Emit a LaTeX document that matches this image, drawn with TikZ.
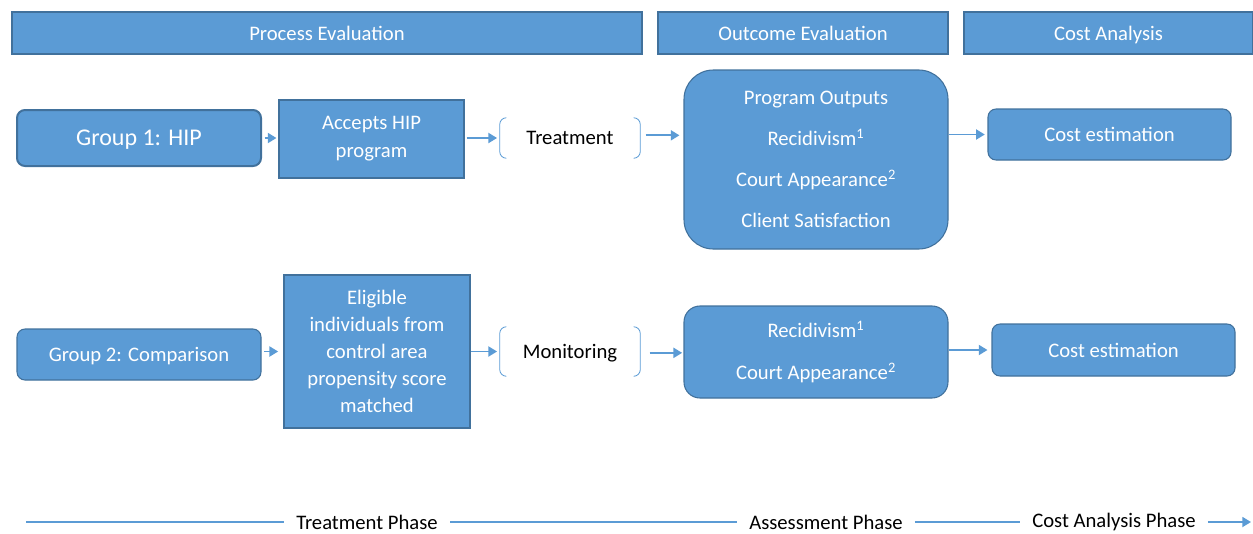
\documentclass[tikz,border=0pt]{standalone}
\usepackage{fontspec}
\setmainfont{Carlito}
\usepackage{xcolor}
\usetikzlibrary{arrows.meta}
\definecolor{boxblue}{HTML}{5B9BD5}
\definecolor{boxline}{HTML}{41719C}
\tikzset{
    block/.style={
        draw=boxline,
        fill=boxblue,
        text=white,
        line width=0.8pt,
        align=center,
        inner sep=0pt,
        font=\fontsize{15.5}{21}\selectfont
    },
    roundblock/.style={block, rounded corners=6pt},
    oneline/.style={text depth=0pt},
    bracketbox/.style={inner sep=0pt, text=black, text depth=0pt, font=\fontsize{15.5}{21}\selectfont},
    bracket/.style={draw=boxblue, line width=0.6pt, rounded corners=5pt},
    flow/.style={draw=boxblue, line width=1.4pt, -{Triangle[length=6.5pt, width=7.5pt]}},
    phaseline/.style={draw=boxblue, line width=1.3pt},
    phasetext/.style={text=black, inner xsep=9pt, font=\fontsize{15.5}{21}\selectfont}
}

\begin{document}
\begin{tikzpicture}[x=0.75pt, y=-0.75pt]
  \useasboundingbox (0,0) rectangle (1253,533);

  % Headers
  \node[block, oneline, minimum width=472.5pt, minimum height=31.5pt] (proc) at (327,33) {Process Evaluation};
  \node[block, oneline, minimum width=217.5pt, minimum height=31.5pt] (outc) at (803,33) {Outcome Evaluation};
  \node[block, oneline, minimum width=216.75pt, minimum height=31.5pt] (cost) at (1108.5,33) {Cost Analysis};

  % Group 1
  \node[roundblock, oneline, line width=1.5pt, minimum width=183pt, minimum height=42pt, font=\fontsize{18}{22}\selectfont] (g1) at (139,138) {Group 1: HIP};
  \node[block, minimum width=138.75pt, minimum height=58.5pt] (acc) at (371.5,139) {Accepts HIP\\program};
  \node[bracketbox, minimum width=105pt, minimum height=30pt] (treat) at (570,138) {Treatment};
  \node[block, rounded corners=22pt, minimum width=198pt, minimum height=134.25pt, font=\fontsize{15.5}{30.8}\selectfont] (out1) at (816,159.5)
    {Program Outputs\\Recidivism\textsuperscript{1}\\Court Appearance\textsuperscript{2}\\Client Satisfaction};
  \node[roundblock, oneline, minimum width=182.25pt, minimum height=38.25pt] (cost1) at (1109.5,134.5) {Cost estimation};

  % Group 2
  \node[roundblock, oneline, minimum width=183pt, minimum height=38.25pt] (g2) at (139,354.5) {Group 2: Comparison};
  \node[block, minimum width=139.5pt, minimum height=114.75pt, font=\fontsize{15.5}{20.3}\selectfont] (elig) at (377,351.5)
    {Eligible\\individuals from\\control area\\propensity score\\matched};
  \node[bracketbox, minimum width=105pt, minimum height=36.75pt] (mon) at (570,351.5) {Monitoring};
  \node[block, rounded corners=12pt, minimum width=198pt, minimum height=69pt, font=\fontsize{15.5}{30.8}\selectfont] (out2) at (816,352)
    {Recidivism\textsuperscript{1}\\Court Appearance\textsuperscript{2}};
  \node[roundblock, oneline, minimum width=182.25pt, minimum height=39pt] (cost2) at (1113.5,350) {Cost estimation};

  % Brackets
  \foreach \b in {treat, mon} {
    \draw[bracket] ([xshift=5pt]\b.north west) -- (\b.north west) -- (\b.south west) -- ([xshift=5pt]\b.south west);
    \draw[bracket] ([xshift=-5pt]\b.north east) -- (\b.north east) -- (\b.south east) -- ([xshift=-5pt]\b.south east);
  }

  % Arrows
  \draw[flow, shorten <=2pt, shorten >=1.5pt] (g1.east) -- (g1.east -| acc.west);
  \draw[flow, shorten <=1.5pt, shorten >=2pt] (acc.east |- treat.west) -- (treat.west);
  \draw[flow, shorten <=4pt, shorten >=3pt] ([yshift=2pt]treat.east) -- ([yshift=2pt]treat.east -| out1.west);
  \draw[flow, shorten >=2pt] (cost1.west -| out1.east) -- (cost1.west);

  \draw[flow, shorten <=2pt, shorten >=4pt] (g2.east |- elig.west) -- (elig.west);
  \draw[flow, shorten >=2pt] (elig.east) -- (mon.west);
  \draw[flow, shorten <=7pt, shorten >=1pt] ([yshift=-1pt]mon.east) -- ([yshift=-1pt]mon.east -| out2.west);
  \draw[flow, shorten >=3pt] (cost2.west -| out2.east) -- (cost2.west);

  % Phases
  \coordinate (p0) at (26,522);
  \node[phasetext] (ph1) at (367,522) {Treatment Phase};
  \node[phasetext] (ph2) at (826,522) {Assessment Phase};
  \node[phasetext] (ph3) at (1114,522) {Cost Analysis Phase};
  \coordinate (p4) at (1251,522);
  \draw[phaseline] (p0) -- (ph1);
  \draw[phaseline] (ph1) -- (ph2);
  \draw[phaseline] (ph2) -- (ph3);
  \draw[phaseline, -{Triangle[length=6.5pt, width=7.5pt]}] (ph3) -- (p4);
\end{tikzpicture}
\end{document}
